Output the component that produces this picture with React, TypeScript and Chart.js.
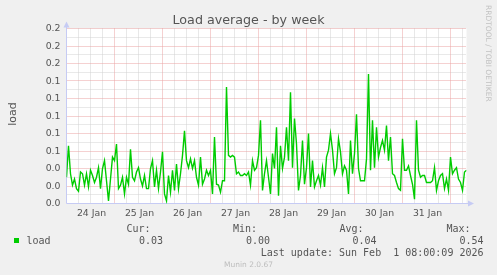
import React, { useEffect, useRef } from "react";
import { Chart, registerables } from "chart.js";

Chart.register(...registerables);

const TITLE = "Load average - by week";
const Y_TITLE = "load";
const SIDE_TEXT = "RRDTOOL / TOBI OETIKER";
const VERSION_TEXT = "Munin 2.0.67";
const LAST_UPDATE = "Last update: Sun Feb  1 08:00:09 2026";

// hours since 24 Jan 00:00 -> day labels placed at noon
const DAY_LABELS = ["24 Jan", "25 Jan", "26 Jan", "27 Jan", "28 Jan", "29 Jan", "30 Jan", "31 Jan"];
const Y_TICKS = [0, 0.02, 0.04, 0.06, 0.08, 0.1, 0.12, 0.14, 0.16, 0.18, 0.2];
const Y_MINOR = [0.01, 0.03, 0.05, 0.07, 0.09, 0.11, 0.13, 0.15, 0.17, 0.19];

const SERIES_NAME = "load";
const LEGEND_HEADERS = ["Cur:", "Min:", "Avg:", "Max:"];
const LEGEND_VALUES = ["0.03", "0.00", "0.04", "0.54"];

// hourly load average, hour 0 = 24 Jan 00:00, hour 200 = 1 Feb 08:00
const LOAD = [
  0.030, 0.066, 0.034, 0.021, 0.028, 0.017, 0.014, 0.036, 0.034, 0.021,
  0.034, 0.019, 0.038, 0.032, 0.024, 0.030, 0.041, 0.017, 0.040, 0.049,
  0.026, 0.003, 0.028, 0.053, 0.049, 0.068, 0.017, 0.021, 0.030, 0.011,
  0.030, 0.022, 0.062, 0.030, 0.026, 0.036, 0.041, 0.028, 0.020, 0.032,
  0.017, 0.017, 0.040, 0.049, 0.019, 0.038, 0.017, 0.036, 0.059, 0.011,
  0.003, 0.032, 0.013, 0.038, 0.015, 0.045, 0.017, 0.034, 0.055, 0.083,
  0.049, 0.041, 0.051, 0.040, 0.049, 0.030, 0.021, 0.053, 0.022, 0.028,
  0.038, 0.032, 0.038, 0.011, 0.076, 0.022, 0.021, 0.013, 0.026, 0.026,
  0.133, 0.055, 0.053, 0.055, 0.053, 0.034, 0.036, 0.032, 0.032, 0.034,
  0.032, 0.036, 0.021, 0.049, 0.038, 0.041, 0.055, 0.095, 0.015, 0.034,
  0.049, 0.030, 0.011, 0.057, 0.040, 0.087, 0.009, 0.066, 0.040, 0.053,
  0.087, 0.049, 0.127, 0.041, 0.097, 0.068, 0.015, 0.032, 0.072, 0.022,
  0.041, 0.080, 0.019, 0.049, 0.019, 0.026, 0.032, 0.021, 0.041, 0.019,
  0.053, 0.061, 0.080, 0.061, 0.034, 0.041, 0.074, 0.059, 0.034, 0.043,
  0.038, 0.011, 0.072, 0.034, 0.057, 0.102, 0.040, 0.026, 0.026, 0.026,
  0.051, 0.148, 0.038, 0.095, 0.041, 0.087, 0.053, 0.064, 0.072, 0.061,
  0.089, 0.049, 0.076, 0.034, 0.032, 0.024, 0.017, 0.015, 0.074, 0.038,
  0.038, 0.043, 0.032, 0.022, 0.005, 0.095, 0.038, 0.030, 0.032, 0.032,
  0.024, 0.024, 0.024, 0.026, 0.041, 0.015, 0.026, 0.032, 0.034, 0.017,
  0.028, 0.015, 0.053, 0.034, 0.038, 0.041, 0.028, 0.024, 0.015, 0.036,
  0.038,
];

const SANS = '"DejaVu Sans", sans-serif';
const MONO = '"DejaVu Sans Mono", monospace';
const TEXT = "#555555";
const AXIS = "#C6CBF4";
const MGRID = "#EBA3A3";
const GRID = "#D2D2D2";

const muninPlugin = {
  id: "muninDecor",
  beforeDraw(chart: any) {
    const { ctx, chartArea: a, scales } = chart;
    const xs = scales.x;
    const ys = scales.y;
    ctx.save();
    ctx.fillStyle = "#F0F0F0";
    ctx.fillRect(0, 0, chart.width, chart.height);
    ctx.fillStyle = "#FFFFFF";
    ctx.fillRect(a.left, a.top, a.right - a.left, a.bottom - a.top);

    ctx.lineWidth = 1;
    ctx.setLineDash([1, 1]);
    const hline = (v: number, color: string) => {
      const py = Math.floor(ys.getPixelForValue(v)) + 0.5;
      ctx.strokeStyle = color;
      ctx.beginPath();
      ctx.moveTo(a.left, py);
      ctx.lineTo(a.right, py);
      ctx.stroke();
    };
    const vline = (h: number, color: string) => {
      const px = Math.floor(xs.getPixelForValue(h)) + 0.5;
      ctx.strokeStyle = color;
      ctx.beginPath();
      ctx.moveTo(px, a.top);
      ctx.lineTo(px, a.bottom);
      ctx.stroke();
    };
    Y_MINOR.forEach((v) => hline(v, GRID));
    for (let h = 6; h < xs.max; h += 6) if (h % 24 !== 0) vline(h, GRID);
    Y_TICKS.forEach((v) => { if (v > 0) hline(v, MGRID); });
    for (let h = 24; h < xs.max; h += 24) vline(h, MGRID);
    ctx.setLineDash([]);

    // axes
    ctx.strokeStyle = AXIS;
    ctx.fillStyle = AXIS;
    const ax = Math.floor(a.left) + 0.5;
    const ay = Math.floor(a.bottom) + 0.5;
    ctx.beginPath();
    ctx.moveTo(ax, ay);
    ctx.lineTo(ax, a.top - 5);
    ctx.moveTo(ax, ay);
    ctx.lineTo(a.right + 5, ay);
    ctx.stroke();
    ctx.beginPath();
    ctx.moveTo(ax - 3, a.top - 1);
    ctx.lineTo(ax + 3, a.top - 1);
    ctx.lineTo(ax, a.top - 7);
    ctx.closePath();
    ctx.fill();
    ctx.beginPath();
    ctx.moveTo(a.right + 1.5, ay - 3);
    ctx.lineTo(a.right + 1.5, ay + 3);
    ctx.lineTo(a.right + 7.5, ay);
    ctx.closePath();
    ctx.fill();

    // y tick labels
    ctx.fillStyle = TEXT;
    ctx.font = `9.33px ${SANS}`;
    ctx.textAlign = "right";
    ctx.textBaseline = "middle";
    Y_TICKS.forEach((v) => {
      ctx.fillText(v.toFixed(1), a.left - 6, ys.getPixelForValue(v) + 0.3);
    });
    // x tick labels at noon
    ctx.textAlign = "center";
    ctx.textBaseline = "alphabetic";
    DAY_LABELS.forEach((lab, i) => {
      ctx.fillText(lab, xs.getPixelForValue(12 + 24 * i) + 1, 215.8);
    });

    // title
    ctx.font = `12.7px ${SANS}`;
    ctx.fillText(TITLE, 248.5, 24.3);

    // y title
    ctx.save();
    ctx.translate(15.5, 114);
    ctx.rotate(-Math.PI / 2);
    ctx.font = `11px ${SANS}`;
    ctx.textAlign = "center";
    ctx.textBaseline = "alphabetic";
    ctx.fillText(Y_TITLE, 0, 0);
    ctx.restore();

    // side watermark
    ctx.save();
    ctx.translate(488, 5);
    ctx.rotate(Math.PI / 2);
    ctx.font = `7.5px ${SANS}`;
    ctx.fillStyle = "#C2C2C2";
    ctx.textAlign = "left";
    ctx.textBaseline = "middle";
    ctx.fillText(SIDE_TEXT, 0, 0);
    ctx.restore();

    // legend
    ctx.font = `10px ${MONO}`;
    ctx.fillStyle = TEXT;
    ctx.textAlign = "right";
    const headRight = [150.5, 257, 363.5, 470.5];
    const valRight = [163, 270, 376.5, 483.5];
    LEGEND_HEADERS.forEach((t, i) => ctx.fillText(t, headRight[i], 231.5));
    LEGEND_VALUES.forEach((t, i) => ctx.fillText(t, valRight[i], 244));
    ctx.fillText(LAST_UPDATE, 483.5, 256);
    ctx.textAlign = "left";
    ctx.fillText(SERIES_NAME, 26.5, 244);
    ctx.fillStyle = "#00CC00";
    ctx.fillRect(14, 238, 5, 5);

    // version
    ctx.font = `7.5px ${SANS}`;
    ctx.fillStyle = "#BDBDBD";
    ctx.textAlign = "center";
    ctx.fillText(VERSION_TEXT, 248.5, 266.5);
    ctx.restore();
  },
};

export default function App() {
  const ref = useRef<HTMLCanvasElement | null>(null);
  useEffect(() => {
    if (!ref.current) return;
    const chart = new Chart(ref.current, {
      type: "line",
      data: {
        datasets: [
          {
            label: SERIES_NAME,
            data: LOAD.map((v, i) => ({ x: i, y: v })),
            borderColor: "#00CC00",
            borderWidth: 1.4,
            pointRadius: 0,
            fill: false,
            tension: 0,
          },
        ],
      },
      options: {
        animation: false,
        responsive: false,
        devicePixelRatio: 1,
        events: [],
        layout: { padding: { left: 66.5, right: 30.5, top: 28.5, bottom: 71.5 } },
        plugins: { legend: { display: false }, tooltip: { enabled: false }, title: { display: false } },
        scales: {
          x: { type: "linear", min: 0, max: 200, display: false },
          y: { type: "linear", min: 0, max: 0.2, display: false },
        },
      },
      plugins: [muninPlugin],
    });
    return () => chart.destroy();
  }, []);
  return (
    <div style={{ position: "fixed", left: 0, top: 0, width: 497, height: 275, background: "#F0F0F0" }}>
      <canvas ref={ref} width={497} height={275} style={{ display: "block", width: 497, height: 275 }} />
    </div>
  );
}
